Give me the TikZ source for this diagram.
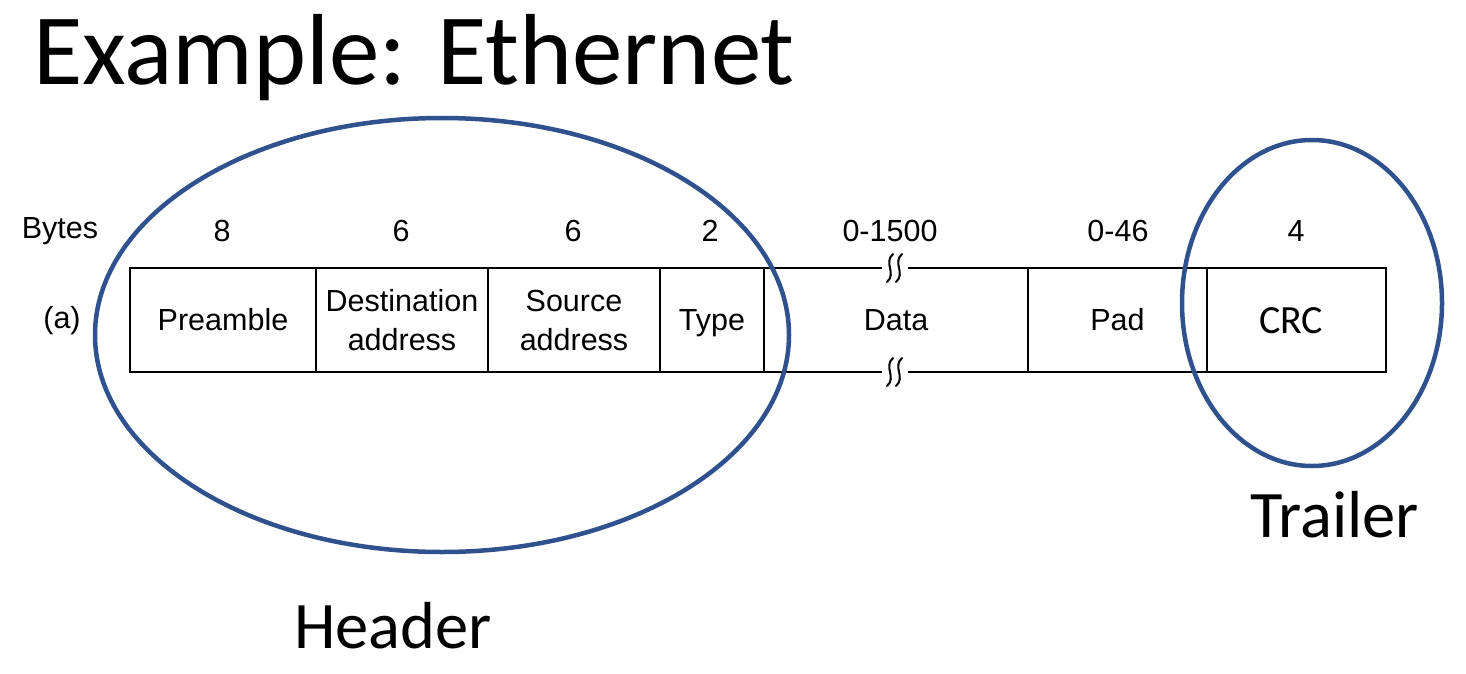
\documentclass[tikz,border=0pt]{standalone}
\usepackage{fontspec}
\setmainfont{Liberation Sans}
\newfontfamily\calib{Carlito}
\definecolor{ovalblue}{RGB}{47,82,143}
\begin{document}
\begin{tikzpicture}[x=1pt,y=-1pt,
  field/.style={draw,line width=1.6pt,minimum height=104pt,inner sep=0pt,align=center,
    font=\fontsize{30.5}{39}\selectfont},
  oneline/.style={text height=26pt,text depth=6pt},
  lbl/.style={font=\fontsize{30.5}{34}\selectfont,inner sep=0pt},
  big/.style={font=\calib\fontsize{66.5}{74}\selectfont,inner sep=0pt,anchor=base west}]
\useasboundingbox (0,0) rectangle (1466,674);
\node[anchor=base west,inner sep=0pt,font=\calib\fontsize{101}{112}\selectfont] (title) at (33,85) {Example: Ethernet};
% fields
\node[field,oneline,minimum width=186pt] (pre) at (223,320) {Preamble};
\node[field,minimum width=172pt] (dst) at (402,320) {Destination\\address};
\node[field,minimum width=172pt] (src) at (574,320) {Source\\address};
\node[field,oneline,minimum width=104pt] (typ) at (712,320) {Type};
\node[field,oneline,minimum width=264pt] (dat) at (896,320) {Data};
\node[field,oneline,minimum width=179pt] (pad) at (1117.5,320) {Pad};
\node[field,minimum width=179pt] (crc) at (1296.5,320) {};
\node[font=\calib\fontsize{40}{44}\selectfont,inner sep=0pt] (crct) at (1291,321) {CRC};
% break marks
\fill[white] (882,263) rectangle (908,273);
\fill[white] (882,367) rectangle (908,377);
\foreach \yy in {268,372}{
  \foreach \xx in {890,899}{
    \draw[line width=2pt,line cap=round] (\xx+3,\yy-14) .. controls (\xx-7,\yy-5) and (\xx+7,\yy+5) .. (\xx-3,\yy+14);
  }
}
\draw[line width=2.2pt] (872,268) -- (882,268) (908,268) -- (918,268);
% labels
\node[lbl] (bytes) at (60,231) {Bytes};
\node[lbl] (n1) at (222,231) {8};
\node[lbl] (n2) at (401,231) {6};
\node[lbl] (n3) at (573,231) {6};
\node[lbl] (n4) at (710,231) {2};
\node[lbl] (n5) at (890,231) {0-1500};
\node[lbl] (n6) at (1118,231) {0-46};
\node[lbl] (n7) at (1296,231) {4};
\node[lbl] (a) at (62,321) {(a)};
% ovals
\draw[ovalblue,line width=4.5pt] (442,335) ellipse [x radius=347, y radius=217];
\draw[ovalblue,line width=4.5pt] (1312,303) ellipse [x radius=130, y radius=163];
\node[big] (hdr) at (294,648) {Header};
\node[big] (trl) at (1250,537) {Trailer};
\end{tikzpicture}
\end{document}
